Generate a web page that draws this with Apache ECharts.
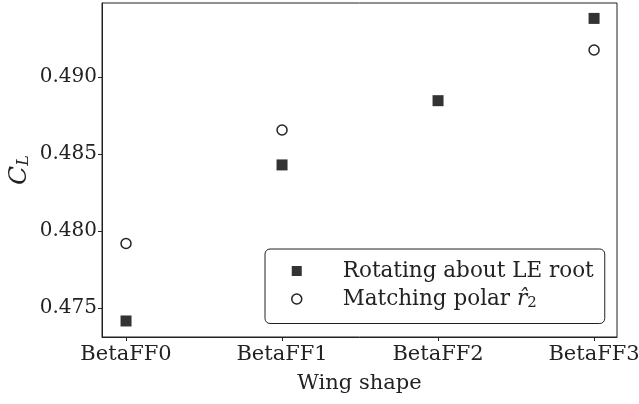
<!DOCTYPE html>
<html>
<head>
<meta charset="utf-8">
<script src="https://cdn.jsdelivr.net/npm/echarts@6/dist/echarts.min.js"></script>
<style>
  html, body { margin: 0; padding: 0; background: #fff; }
</style>
</head>
<body>
<div id="chart" style="width: 639px; height: 404px;"></div>
<script>
  // data
  const categories = ['BetaFF0', 'BetaFF1', 'BetaFF2', 'BetaFF3'];
  const rotatingLE = [0.47416, 0.48429, 0.48846, 0.4938];
  const matchingPolar = [0.47919, 0.48656, null, 0.49175];
  const yTicks = [0.475, 0.480, 0.485, 0.490];
  const xTicks = [0, 1, 2, 3];

  const FONT = 'DejaVu Serif';
  const INK = '#222';

  function toPoints(values) {
    let pts = [];
    values.forEach(function (v, i) {
      if (v !== null) pts.push([i, v]);
    });
    return pts;
  }

  let chart = echarts.init(document.getElementById('chart'));

  let option = {
    animation: false,
    grid: {
      left: 102,
      right: 22,
      top: 3,
      bottom: 67,
      outerBoundsMode: 'none',
      containLabel: false,
      show: true,
      borderColor: INK,
      borderWidth: 1,
      backgroundColor: 'transparent'
    },
    xAxis: {
      type: 'value',
      min: -0.154,
      max: 3.147,
      name: 'Wing shape',
      nameLocation: 'middle',
      nameGap: 36,
      nameTextStyle: { fontFamily: FONT, fontSize: 21, color: INK },
      axisLine: { show: true, onZero: false, lineStyle: { color: INK } },
      axisTick: { show: true, length: 4, customValues: xTicks, lineStyle: { color: INK } },
      axisLabel: {
        customValues: xTicks,
        margin: 7,
        fontFamily: FONT,
        fontSize: 21,
        color: INK,
        formatter: function (v) { return categories[Math.round(v)]; }
      },
      splitLine: { show: false }
    },
    yAxis: {
      type: 'value',
      min: 0.47312,
      max: 0.4948,
      name: '{i|C}{s|L}',
      nameLocation: 'middle',
      nameRotate: 90,
      nameMoveOverlap: false,
      nameGap: 70,
      nameTextStyle: {
        rich: {
          i: { fontFamily: FONT, fontStyle: 'italic', fontSize: 25, color: INK },
          s: { fontFamily: FONT, fontStyle: 'italic', fontSize: 16, color: INK, padding: [10, 0, 0, 0] }
        }
      },
      axisLine: { show: true, onZero: false, lineStyle: { color: INK } },
      axisTick: { show: true, length: 4, customValues: yTicks, lineStyle: { color: INK } },
      axisLabel: {
        customValues: yTicks,
        margin: 5,
        fontFamily: FONT,
        fontSize: 20,
        color: INK,
        formatter: function (v) { return v.toFixed(3); }
      },
      splitLine: { show: false }
    },
    legend: {
      orient: 'vertical',
      left: 265,
      top: 249,
      padding: [11, 11, 13, 26],
      itemGap: 6,
      itemWidth: 40,
      itemHeight: 10,
      symbolKeepAspect: true,
      borderColor: INK,
      borderWidth: 1,
      borderRadius: 5,
      backgroundColor: '#fff',
      textStyle: {
        fontFamily: FONT,
        fontSize: 21.5,
        color: INK,
        lineHeight: 22,
        padding: [0, 0, 0, 21],
        rich: {
          t: { fontFamily: FONT, fontSize: 21.5, color: INK },
          i: { fontFamily: FONT, fontStyle: 'italic', fontSize: 21.5, color: INK },
          s: { fontFamily: FONT, fontSize: 15, color: INK, padding: [8, 0, 0, 0] }
        }
      },
      formatter: function (name) {
        if (name === 'Matching polar r2') return '{t|Matching polar }{i|r\u0302}{s|2}';
        return name;
      },
      data: [
        {
          name: 'Rotating about LE root',
          icon: 'path://M0,0h10v10h-10z',
          itemStyle: { color: '#333', borderWidth: 0, opacity: 1 }
        },
        {
          name: 'Matching polar r2',
          icon: 'path://M10,5A5,5,0,1,1,0,5A5,5,0,1,1,10,5z',
          itemStyle: { color: '#fff', borderColor: INK, borderWidth: 1.5, opacity: 1 }
        }
      ]
    },
    series: [
      {
        name: 'Rotating about LE root',
        type: 'scatter',
        symbol: 'rect',
        symbolSize: 11,
        itemStyle: { color: '#333', opacity: 1 },
        data: toPoints(rotatingLE)
      },
      {
        name: 'Matching polar r2',
        type: 'scatter',
        symbol: 'circle',
        symbolSize: 10,
        itemStyle: { color: '#fff', borderColor: INK, borderWidth: 1.5, opacity: 1 },
        data: toPoints(matchingPolar)
      }
    ]
  };

  chart.setOption(option);
</script>
</body>
</html>
